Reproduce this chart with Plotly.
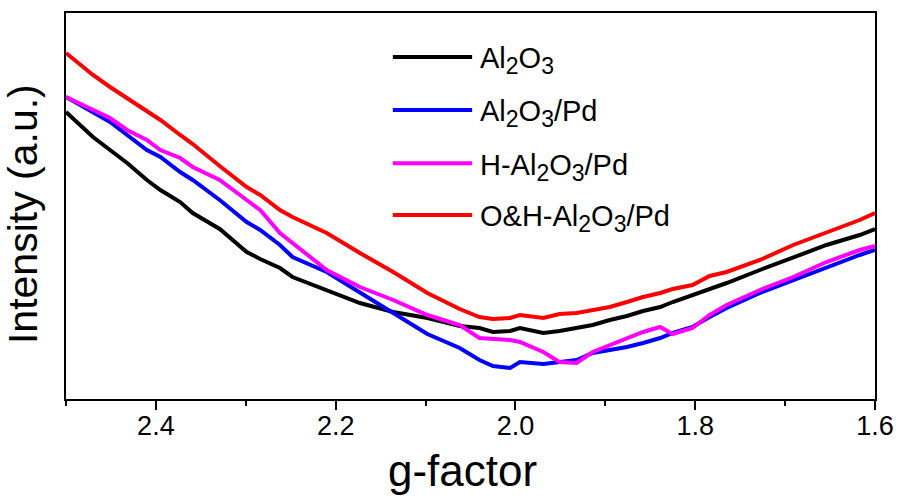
import plotly.graph_objects as go

# g-factor positions (x axis, reversed)
g_factor = [2.500, 2.484, 2.470, 2.451, 2.432, 2.410, 2.395, 2.373, 2.359, 2.329,
            2.299, 2.284, 2.262, 2.248, 2.210, 2.173, 2.136, 2.098, 2.062, 2.040,
            2.025, 2.006, 1.995, 1.969, 1.951, 1.932, 1.914, 1.895, 1.876, 1.858,
            1.839, 1.825, 1.803, 1.784, 1.765, 1.728, 1.691, 1.654, 1.617, 1.600]

# Intensities (a.u.)
al2o3 = [287, 274, 262, 249, 236, 219, 209, 197, 186, 170, 147, 140, 131, 122, 109, 96, 87, 81, 73, 71,
         67, 68, 71, 66, 68, 71, 74, 79, 83, 88, 92, 97, 104, 110, 116, 129, 142, 154, 164, 170]
al2o3_pd = [302, 294, 287, 277, 264, 249, 242, 227, 219, 199, 177, 169, 154, 142, 127, 107, 86, 65, 51, 39,
            33, 31, 37, 35, 37, 39, 46, 49, 52, 56, 61, 66, 72, 82, 91, 106, 119, 131, 144, 149]
h_al2o3_pd = [302, 295, 289, 281, 269, 259, 249, 241, 232, 219, 199, 189, 166, 156, 129, 112, 99, 84, 74, 61,
              60, 59, 57, 47, 37, 36, 47, 54, 61, 67, 72, 65, 71, 84, 94, 109, 122, 137, 149, 153]
oh_al2o3_pd = [346, 334, 324, 312, 301, 288, 279, 264, 255, 233, 212, 204, 189, 182, 166, 146, 127, 106, 90, 82,
               80, 81, 84, 81, 85, 86, 89, 92, 97, 102, 106, 110, 114, 123, 127, 139, 154, 166, 179, 186]

SUB2 = "<sub><span style='font-size:23px'>2</span></sub>"
SUB3 = "<sub><span style='font-size:23px'>3</span></sub>"
series_names = ["Al" + SUB2 + "O" + SUB3,
                "Al" + SUB2 + "O" + SUB3 + "/Pd",
                "H-Al" + SUB2 + "O" + SUB3 + "/Pd",
                "O&H-Al" + SUB2 + "O" + SUB3 + "/Pd"]
series_values = [al2o3, al2o3_pd, h_al2o3_pd, oh_al2o3_pd]
series_colors = ["#000000", "#0000FF", "#FF00FF", "#FF0000"]

tick_vals = [2.4, 2.2, 2.0, 1.8, 1.6]
tick_text = ["2.4", "2.2", "2.0", "1.8", "1.6"]

FONT = "Liberation Sans, Arial, sans-serif"

fig = go.Figure()
for name, vals, col in zip(series_names, series_values, series_colors):
    fig.add_trace(go.Scatter(x=g_factor, y=vals, mode="lines", name=name,
                             line=dict(color=col, width=4), showlegend=False))

# manual legend
leg_y = [0.886, 0.749, 0.611, 0.477]
for name, col, yy in zip(series_names, series_colors, leg_y):
    fig.add_shape(type="line", xref="paper", yref="paper", x0=0.404, x1=0.502, y0=yy, y1=yy,
                  line=dict(color=col, width=4))
    fig.add_annotation(xref="paper", yref="paper", x=0.509, y=yy - 0.01, text=name, showarrow=False,
                       xanchor="left", yanchor="middle", font=dict(family=FONT, size=29, color="black"))

fig.add_annotation(xref="paper", yref="paper", x=0.49, y=-0.184, text="g-factor", showarrow=False,
                   xanchor="center", yanchor="middle", font=dict(family=FONT, size=44, color="black"))
fig.add_annotation(xref="paper", yref="paper", x=-0.054, y=0.48, text="Intensity (a.u.)", showarrow=False,
                   xanchor="center", yanchor="middle", textangle=-90,
                   font=dict(family=FONT, size=41, color="black"))

fig.update_layout(
    width=897, height=499,
    margin=dict(l=66, r=22, t=13, b=100),
    paper_bgcolor="white", plot_bgcolor="white",
    font=dict(family=FONT, color="black"),
    xaxis=dict(range=[2.5, 1.6], tickvals=tick_vals, ticktext=tick_text, ticks="outside",
               ticklen=9, tickwidth=2, tickcolor="black", showline=True, linewidth=2,
               linecolor="black", mirror=True, showgrid=False, zeroline=False,
               ticklabelstandoff=-7, automargin=False,
               tickfont=dict(family=FONT, size=27, color="black"),
               minor=dict(tickvals=[2.5, 2.3, 2.1, 1.9, 1.7], ticks="outside", ticklen=5,
                          tickwidth=2, tickcolor="black", showgrid=False)),
    yaxis=dict(range=[0, 386], showticklabels=False, ticks="", showline=True, linewidth=2,
               linecolor="black", mirror=True, showgrid=False, zeroline=False, automargin=False),
)

fig.write_html("out.html")
